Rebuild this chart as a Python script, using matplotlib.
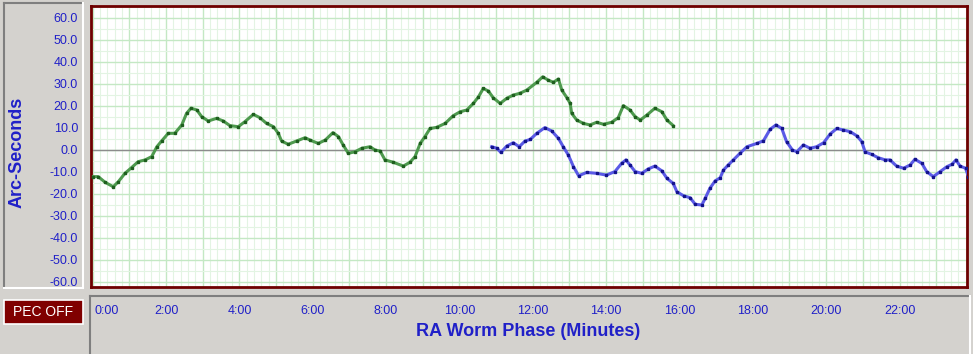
import matplotlib
matplotlib.use("Agg")
import matplotlib.pyplot as plt
from matplotlib.patches import Rectangle
from matplotlib.lines import Line2D
import numpy as np

plt.rcParams['font.family'] = ['Liberation Sans', 'DejaVu Sans']

# worm phase (minutes) and error (arc-seconds)
green_t = [0.02, 0.15, 0.34, 0.56, 0.70, 0.88, 1.06, 1.24, 1.43, 1.61, 1.75, 1.88,
           2.06, 2.24, 2.43, 2.56, 2.68, 2.84, 2.97, 3.15, 3.38, 3.56, 3.74, 3.97,
           4.15, 4.38, 4.56, 4.74, 4.93, 5.06, 5.15, 5.33, 5.56, 5.79, 5.93, 6.15,
           6.34, 6.55, 6.70, 6.83, 6.97, 7.15, 7.34, 7.56, 7.70, 7.84, 7.97, 8.20,
           8.47, 8.65, 8.79, 8.93, 9.06, 9.20, 9.38, 9.61, 9.83, 10.02, 10.20, 10.38,
           10.52, 10.65, 10.79, 10.92, 11.11, 11.29, 11.47, 11.65, 11.84, 12.11, 12.27,
           12.42, 12.56, 12.70, 12.79, 12.93, 13.02, 13.06, 13.20, 13.38, 13.56, 13.74,
           13.93, 14.15, 14.33, 14.47, 14.65, 14.79, 14.93, 15.11, 15.33, 15.52, 15.66,
           15.83]
green_v = [-12.1, -12.1, -14.7, -16.7, -14.4, -10.6, -8.0, -5.3, -4.5, -3.0, 1.5, 4.1,
           7.6, 7.6, 11.4, 16.7, 19.0, 18.2, 15.2, 13.2, 14.4, 13.2, 11.1, 10.6,
           12.9, 16.2, 14.7, 12.1, 10.6, 7.6, 4.1, 2.6, 4.1, 5.6, 4.5, 3.0,
           4.5, 7.9, 6.1, 2.3, -1.5, -0.8, 0.8, 1.5, 0.0, -0.5, -4.5, -5.6,
           -7.3, -5.6, -3.0, 3.0, 6.1, 9.8, 10.3, 12.1, 15.6, 17.4, 18.2, 21.2,
           24.2, 28.0, 26.8, 23.8, 21.2, 23.5, 25.0, 25.8, 27.3, 30.8, 33.3,
           31.8, 30.8, 32.3, 27.3, 23.8, 21.2, 16.7, 13.6, 12.1, 11.4, 12.6,
           11.7, 12.6, 14.7, 20.2, 18.2, 15.2, 13.6, 15.9, 19.0, 17.4, 13.6,
           11.1]

blue_t = [10.88, 11.02, 11.13, 11.29, 11.47, 11.63, 11.79, 11.93, 12.11, 12.33, 12.52,
          12.70, 12.83, 12.97, 13.11, 13.25, 13.47, 13.74, 14.01, 14.24, 14.42, 14.54,
          14.65, 14.79, 14.97, 15.15, 15.33, 15.52, 15.66, 15.83, 15.93, 16.11, 16.29,
          16.43, 16.61, 16.70, 16.83, 16.97, 17.11, 17.20, 17.33, 17.47, 17.65, 17.84,
          18.11, 18.29, 18.47, 18.63, 18.79, 18.92, 19.08, 19.20, 19.38, 19.56, 19.74,
          19.93, 20.11, 20.29, 20.47, 20.66, 20.84, 20.97, 21.06, 21.24, 21.42, 21.61,
          21.74, 21.92, 22.11, 22.29, 22.42, 22.61, 22.74, 22.92, 23.11, 23.29, 23.43,
          23.54, 23.65, 23.80, 23.88]
blue_v = [1.5, 0.8, -1.1, 1.8, 3.3, 1.5, 4.1, 4.8, 7.6, 10.2, 8.6,
          5.3, 1.5, -2.3, -7.6, -11.7, -10.2, -10.6, -11.4, -9.8, -6.1, -4.5,
          -6.8, -9.8, -10.6, -8.6, -7.3, -9.5, -12.9, -15.2, -19.0, -20.8, -21.7,
          -24.7, -25.0, -22.0, -17.4, -14.1, -12.6, -9.1, -6.8, -4.5, -1.5, 1.5,
          3.0, 4.2, 9.4, 11.4, 9.8, 3.8, 0.0, -0.8, 2.3, 0.8, 1.5,
          3.3, 7.3, 9.8, 9.1, 8.3, 6.4, 3.8, -0.8, -2.0, -3.5, -4.5,
          -4.5, -7.3, -8.3, -6.8, -4.2, -6.1, -9.8, -12.1, -9.8, -7.6, -6.5,
          -4.5, -7.3, -8.3, -12.1]

y_ticks = [60, 50, 40, 30, 20, 10, 0, -10, -20, -30, -40, -50, -60]
x_ticks = list(range(0, 24, 2))
x_labels = ['%d:00' % m for m in x_ticks]

W, H = 973, 354
BG = '#d4d2ce'
TXT = '#2020c8'

fig = plt.figure(figsize=(W / 100, H / 100), dpi=100, facecolor=BG)


def box(x0, y0, x1, y1):
    # pixel box (top-left origin) -> figure fraction rect
    return (x0 / W, 1 - y1 / H, (x1 - x0) / W, (y1 - y0) / H)


def panel(x0, y0, x1, y1, fill=BG, dark='#7f7f7f', light='#ffffff'):
    l, b, w, h = box(x0, y0, x1, y1)
    tr = fig.transFigure
    fig.add_artist(Rectangle((l, b), w, h, transform=tr, facecolor=fill,
                             edgecolor='none', zorder=-10))
    for xs, ys, c in [([l, l], [b, b + h], dark), ([l, l + w], [b + h, b + h], dark),
                      ([l + w, l + w], [b, b + h], light), ([l, l + w], [b, b], light)]:
        fig.add_artist(Line2D(xs, ys, color=c, lw=1.5, transform=tr, zorder=-9))


# side panel and bottom panel
panel(4, 3, 83, 288)
panel(90, 296, 970, 356)

# PEC OFF button
l, b, w, h = box(4, 300, 83, 324)
fig.add_artist(Rectangle((l, b), w, h, transform=fig.transFigure,
                         facecolor='#800000', edgecolor='white', lw=1.2))
fig.text(l + w / 2, b + h / 2, 'PEC OFF', color='white', fontsize=10,
         ha='center', va='center')

# main plot
ax = fig.add_axes(box(91, 6, 967, 287))
ax.set_facecolor('white')
ax.set_xlim(-0.046, 23.84)
ax.set_ylim(-62.3, 65.5)

ax.set_xticks(np.arange(0, 24, 1))
ax.set_xticks(np.arange(0, 24, 0.2), minor=True)
ax.set_yticks(np.arange(-60, 61, 10))
ax.set_yticks(np.arange(-60, 66, 5), minor=True)
ax.grid(which='minor', color='#e3f4e3', lw=0.8)
ax.grid(which='major', color='#c4e8c4', lw=1.0)
ax.set_axisbelow(True)
ax.axhline(0, color='#8c8c8c', lw=1.0, zorder=2)

ax.plot(green_t, green_v, color='#4e9a4e', lw=2.2, zorder=3)
ax.plot(green_t, green_v, 's', color='#1f5f1f', ms=1.6, zorder=4)
ax.plot(blue_t, blue_v, color='#5a5ae6', lw=2.2, zorder=3)
ax.plot(blue_t, blue_v, 's', color='#14148c', ms=1.6, zorder=4)

for s in ax.spines.values():
    s.set_color('#6e0000')
    s.set_linewidth(2)

ax.tick_params(which='both', length=0)
ax.set_xticklabels([])
ax.set_yticklabels([])

# tick labels drawn in the side / bottom panels
ytr = ax.get_yaxis_transform()
for v in y_ticks:
    ax.annotate('%.1f' % v, xy=(0, v), xycoords=ytr, xytext=(-13, -1),
                textcoords='offset pixels', color=TXT, fontsize=9,
                ha='right', va='center', annotation_clip=False)
xtr = ax.get_xaxis_transform()
for m, lab in zip(x_ticks, x_labels):
    ax.annotate(lab, xy=(m, 0), xycoords=xtr, xytext=(2 if m == 0 else 0, -24),
                textcoords='offset pixels', color=TXT, fontsize=9,
                ha='left' if m == 0 else 'center', va='center', annotation_clip=False)

fig.text(17 / W, 1 - 152 / H, 'Arc-Seconds', rotation=90, color=TXT,
         fontsize=13, fontweight='bold', ha='center', va='center')
fig.text(528 / W, 1 - 331 / H, 'RA Worm Phase (Minutes)', color=TXT,
         fontsize=13, fontweight='bold', ha='center', va='center')

fig.savefig('out.png', dpi=100, facecolor=BG)
